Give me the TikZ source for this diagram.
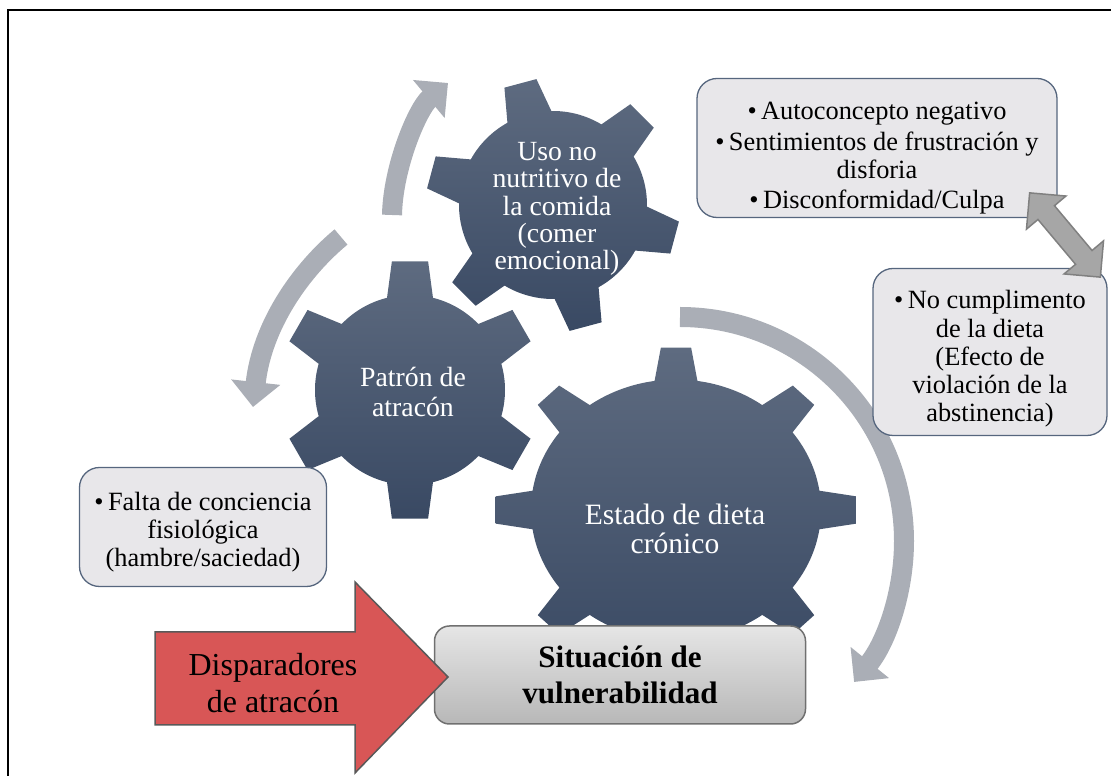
\documentclass[tikz,border=0pt]{standalone}
\usepackage{fontspec}
\setmainfont{Liberation Serif}
\usetikzlibrary{arrows.meta,shapes.arrows}

\definecolor{gearTop}{HTML}{5E6B80}
\definecolor{gearBot}{HTML}{394963}
\definecolor{cycleGray}{HTML}{AAAEB6}
\definecolor{boxFill}{HTML}{E8E7EA}
\definecolor{boxLine}{HTML}{56667E}
\definecolor{triggerRed}{HTML}{D85656}

\begin{document}
\begin{tikzpicture}[x=0.2mm,y=0.2mm,
  gearbody/.style={top color=gearTop,bottom color=gearBot},
  geartext/.style={text=white,align=center,font=\fontsize{15.8}{15.6}\selectfont},
  infobox/.style={draw=boxLine,line width=0.26mm,fill=boxFill,rounded corners=4mm,align=center,
    inner sep=0pt,font=\fontsize{15}{16}\selectfont},
  cyclearrow/.style={draw=cycleGray,line width=4mm,-{Triangle[width=9.6mm,length=5mm]}},
  linkarrow/.style={double arrow,draw=black!50,fill=black!35,line width=0.3mm,
    minimum height=22mm,double arrow head extend=3mm,
    double arrow tip angle=90,inner xsep=0pt,inner ysep=2mm}]
\useasboundingbox (0,0) rectangle (1111,776);

\draw[line width=0.55mm] (8,-20) -- (8,766) -- (1130,766);

\draw[cyclearrow] (392,561) .. controls (393,610) and (418,668) .. (448,693);
\draw[cyclearrow] (341,539) .. controls (300,505) and (262,450) .. (253,369);
\draw[cyclearrow] (680,459) arc[start angle=90,end angle=-39,radius=224];

\begin{scope}[shift={(553,571)}]
\shade[gearbody] ({45-14}:94) \foreach \a in {45,105,...,345} {
  -- ({\a-14}:94) -- ({\a-7.5}:127) -- ({\a+7.5}:127) -- ({\a+14}:94)
  arc[start angle=\a+14,end angle=\a+60-14,radius=94]} -- cycle;
\end{scope}

\begin{scope}[shift={(410,386)}]
\shade[gearbody] ({30-14}:95) \foreach \a in {30,90,...,330} {
  -- ({\a-14}:95) -- ({\a-8}:130) -- ({\a+8}:130) -- ({\a+14}:95)
  arc[start angle=\a+14,end angle=\a+60-14,radius=95]} -- cycle;
\end{scope}

\begin{scope}[shift={(676,266)},yscale=0.9]
\shade[gearbody] ({90-8.5}:145) \foreach \a in {90,135,...,405} {
  -- ({\a-8.5}:145) -- ({\a-4.8}:181) -- ({\a+4.8}:181) -- ({\a+8.5}:145)
  arc[start angle=\a+8.5,end angle=\a+45-8.5,radius=145]} -- cycle;
\end{scope}

\node[geartext] (uso) at (557,567) {Uso no\\nutritivo de\\la comida\\(comer\\emocional)};
\node[geartext,font=\fontsize{15.8}{16.6}\selectfont] (patron) at (413,384) {Patrón de\\atracón};
\node[geartext,font=\fontsize{16.8}{16.4}\selectfont] (estado) at (675,247) {Estado de dieta\\crónico};

\node[infobox,minimum width=72mm,minimum height=27.8mm] (crit) at (877,628) {\rule{0pt}{21.6pt}\textbullet\,Autoconcepto negativo\\[1.5pt]
  \textbullet\,Sentimientos de frustración y\\ disforia\\[1.5pt] \textbullet\,Disconformidad/Culpa};
\node[infobox,minimum width=46.8mm,minimum height=33.4mm] (incump) at (990,424) {\rule{0pt}{18.2pt}\textbullet\,No cumplimento\\
  de la dieta\\ (Efecto de\\ violación de la\\ abstinencia)};
\node[infobox,minimum width=49.4mm,minimum height=23.8mm] (fisio) at (203,249) {\rule{0pt}{16pt}\textbullet\,Falta de conciencia\\
  fisiológica\\ (hambre/saciedad)};

\node[linkarrow,rotate=-50] (link) at (1065,541) {};

\node[draw=black!56,line width=0.3mm,top color=black!10,bottom color=black!28,rounded corners=3mm,
  minimum width=74.2mm,minimum height=19.6mm,align=center,
  font=\bfseries\fontsize{17.7}{20.5}\selectfont] (vuln) at (620,101) {Situación de\\vulnerabilidad};

\draw[fill=triggerRed,draw=black!65,line width=0.3mm] (155,144) -- (355,144) -- (355,194) -- (448,99)
  -- (355,3) -- (355,51) -- (155,51) -- cycle;
\node[align=center,font=\fontsize{18.2}{21}\selectfont] (disp) at (273,93) {Disparadores\\de atracón};

\end{tikzpicture}
\end{document}
